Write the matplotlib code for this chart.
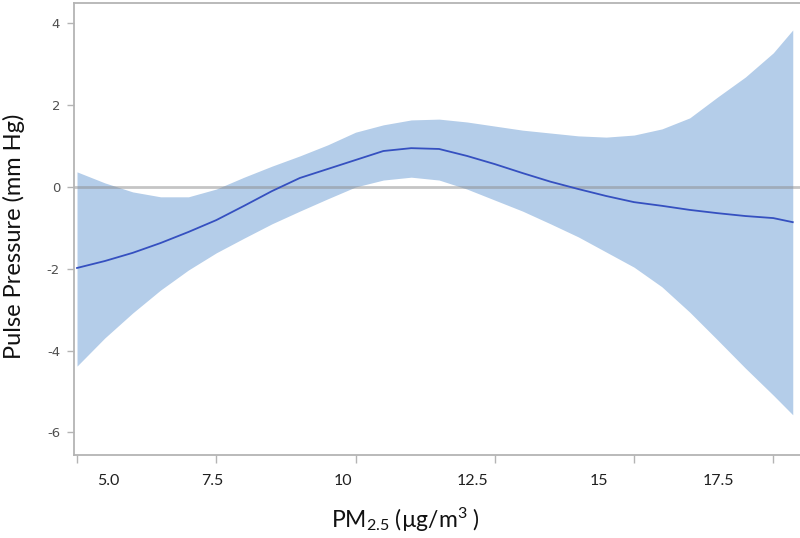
import matplotlib
matplotlib.use('Agg')
import matplotlib.pyplot as plt
from matplotlib.transforms import ScaledTranslation

plt.rcParams['mathtext.fontset'] = 'custom'
plt.rcParams['mathtext.rm'] = 'Lato'
plt.rcParams['mathtext.it'] = 'Lato'

# PM2.5 exposure (ug/m3) and estimated change in pulse pressure (mm Hg)
pm25 = [5.0, 5.5, 6.0, 6.5, 7.0, 7.5, 8.0, 8.5, 9.0, 9.5, 10.0, 10.5, 11.0, 11.5,
        12.0, 12.5, 13.0, 13.5, 14.0, 14.5, 15.0, 15.5, 16.0, 16.5, 17.0, 17.5, 17.85]
effect = [-1.98, -1.81, -1.61, -1.37, -1.10, -0.81, -0.46, -0.10, 0.22, 0.44, 0.66, 0.88, 0.95, 0.93,
          0.76, 0.56, 0.34, 0.13, -0.05, -0.22, -0.37, -0.46, -0.56, -0.64, -0.71, -0.76, -0.86]
upper = [0.37, 0.10, -0.12, -0.24, -0.24, -0.05, 0.24, 0.51, 0.76, 1.03, 1.34, 1.52, 1.64, 1.66,
         1.59, 1.49, 1.39, 1.32, 1.25, 1.22, 1.27, 1.42, 1.69, 2.20, 2.69, 3.28, 3.84]
lower = [-4.38, -3.69, -3.08, -2.52, -2.03, -1.61, -1.25, -0.90, -0.59, -0.29, 0.00, 0.17, 0.24, 0.17,
         -0.05, -0.32, -0.59, -0.90, -1.22, -1.59, -1.96, -2.44, -3.06, -3.74, -4.43, -5.09, -5.57]

xticks = [5.0, 7.5, 10.0, 12.5, 15.0, 17.5]
xtick_labels = ['5.0', '7.5', '10', '12.5', '15', '17.5']
yticks = [-6, -4, -2, 0, 2, 4]

# the x tick labels in the original sit off their ticks (pixels)
label_shift = [31, -4, -13, -22, -35, -55]

fig = plt.figure(figsize=(8, 5.38), dpi=100)
ax = fig.add_axes([0.0925, 0.1543, 0.9075, 0.8401])

ax.fill_between(pm25, lower, upper, color='#b4cde9', linewidth=0, zorder=1)
ax.axhline(0, color='#8c8c8c', alpha=0.5, linewidth=2, zorder=2)
ax.plot(pm25, effect, color='#3550c0', linewidth=1.3, zorder=3)

ax.set_xlim(4.946, 17.98)
ax.set_ylim(-6.553, 4.499)

for side in ['left', 'bottom', 'top']:
    ax.spines[side].set_color('#b4b4b4')
    ax.spines[side].set_linewidth(1.3)
ax.spines['right'].set_visible(False)

ax.set_yticks(yticks)
ax.set_yticklabels([str(v) for v in yticks], fontsize=9.5, color='#505050',
                   family='DejaVu Sans')
ax.tick_params(axis='y', length=5, width=1, color='#b4b4b4', pad=5)

ax.set_xticks(xticks)
ax.set_xticklabels(xtick_labels, fontsize=11.5, color='#202020', family='Lato')
ax.tick_params(axis='x', length=6, width=1, color='#b4b4b4', pad=8)
for lab, dx in zip(ax.get_xticklabels(), label_shift):
    lab.set_transform(lab.get_transform() + ScaledTranslation(dx / 100, 0, fig.dpi_scale_trans))

fig.text(14 / 800, 1 - 236 / 538, 'Pulse Pressure (mm Hg)', rotation=90,
         ha='center', va='center', fontsize=17, family='Lato', color='#111111')
fig.text(405 / 800, 1 - 520 / 538, r'PM$_{2.5}$ (µg/m$^{3}$ )',
         ha='center', va='center', fontsize=16.5, family='Lato', color='#111111')

fig.savefig('out.png', dpi=100)
